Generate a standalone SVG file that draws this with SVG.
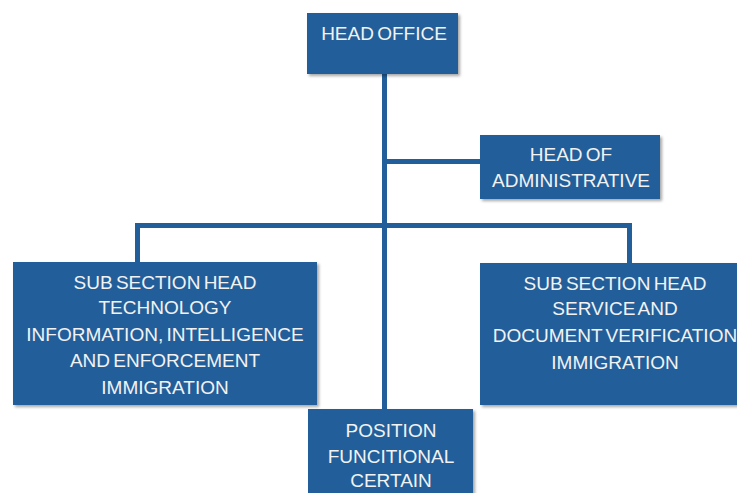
<svg xmlns="http://www.w3.org/2000/svg" width="737" height="493" viewBox="0 0 737 493">
  <defs>
    <filter id="shadow" x="-10%" y="-10%" width="130%" height="140%">
      <feDropShadow dx="2" dy="2" stdDeviation="1.5" flood-color="#000" flood-opacity="0.35"/>
    </filter>
    <style>
      .box { fill: #215E9A; filter: url(#shadow); }
      .lbl { fill: #F2F2F2; font-family: "Liberation Sans", Arial, sans-serif; font-size: 19px; text-anchor: middle; word-spacing: -2px; }
      .wire { stroke: #215E9A; stroke-width: 5; fill: none; }
    </style>
  </defs>
  <rect width="737" height="493" fill="#FFFFFF"/>

  <!-- connectors -->
  <g id="connectors">
    <line class="wire" x1="384.5" y1="74" x2="384.5" y2="410"/>
    <line class="wire" x1="384.5" y1="161.5" x2="481" y2="161.5"/>
    <polyline class="wire" points="137.5,263 137.5,225.5 629.5,225.5 629.5,264"/>
  </g>

  <g id="head-office">
    <rect class="box" x="307" y="13" width="151" height="61"/>
    <text class="lbl" x="384" y="40">HEAD OFFICE</text>
  </g>

  <g id="head-of-administrative">
    <rect class="box" x="480" y="135" width="180" height="64"/>
    <text class="lbl" x="571" y="161">HEAD OF</text>
    <text class="lbl" x="571" y="187">ADMINISTRATIVE</text>
  </g>

  <g id="sub-section-technology">
    <rect class="box" x="13" y="262" width="304" height="143"/>
    <text class="lbl" x="165" y="289">SUB SECTION HEAD</text>
    <text class="lbl" x="165" y="314">TECHNOLOGY</text>
    <text class="lbl" x="165" y="341">INFORMATION, INTELLIGENCE</text>
    <text class="lbl" x="165" y="367">AND ENFORCEMENT</text>
    <text class="lbl" x="165" y="394">IMMIGRATION</text>
  </g>

  <g id="sub-section-service">
    <rect class="box" x="480" y="263" width="272" height="142"/>
    <text class="lbl" x="615" y="290">SUB SECTION HEAD</text>
    <text class="lbl" x="615" y="315">SERVICE AND</text>
    <text class="lbl" x="615" y="342">DOCUMENT VERIFICATION</text>
    <text class="lbl" x="615" y="369">IMMIGRATION</text>
  </g>

  <g id="position-functional">
    <rect class="box" x="308" y="409" width="165" height="90"/>
    <text class="lbl" x="391" y="437">POSITION</text>
    <text class="lbl" x="391" y="463">FUNCITIONAL</text>
    <text class="lbl" x="391" y="487">CERTAIN</text>
  </g>
</svg>
